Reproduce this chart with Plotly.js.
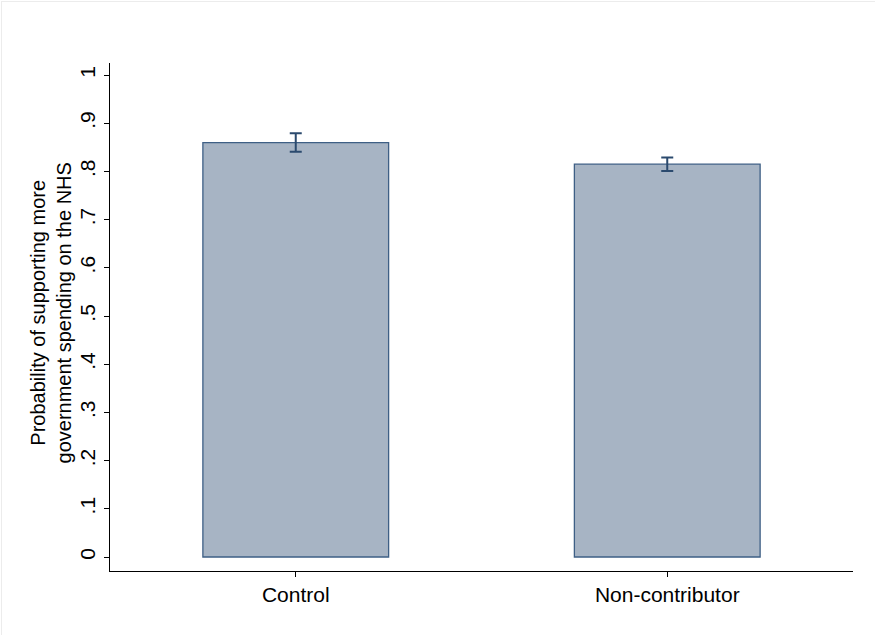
<!DOCTYPE html>
<html>
<head>
<meta charset="utf-8">
<script src="https://cdn.plot.ly/plotly-3.0.1.min.js"></script>
<style>
  html, body { margin: 0; padding: 0; background: #fff; }
  #chart { width: 875px; height: 635px; }
  #frame { position: absolute; left: 1px; top: 1px; width: 880px; height: 640px; border-left: 1px solid #ececec; border-top: 1px solid #ececec; pointer-events: none; }
</style>
</head>
<body>
<div id="chart"></div>
<div id="frame"></div>
<script>
const categories = ["Control", "Non-contributor"];
const values = [0.860, 0.815];
const errors = [0.019, 0.014];
const yTickVals = [0, 0.1, 0.2, 0.3, 0.4, 0.5, 0.6, 0.7, 0.8, 0.9, 1];
const yTickText = ["0", ".1", ".2", ".3", ".4", ".5", ".6", ".7", ".8", ".9", "1"];
const yTitle = "Probability of supporting more<br>government spending on the NHS";

const FONT = "Liberation Sans, Arial, sans-serif";

const trace = {
  type: "bar",
  x: categories,
  y: values,
  width: 0.5,
  marker: { color: "#a7b4c4", line: { color: "#3e5f85", width: 1.3 } },
  error_y: { type: "data", array: errors, visible: true, color: "#2b4a6e", thickness: 2, width: 6 },
  hoverinfo: "none"
};

const layout = {
  width: 875,
  height: 635,
  margin: { l: 110, r: 22, t: 63, b: 64 },
  paper_bgcolor: "#ffffff",
  plot_bgcolor: "#ffffff",
  showlegend: false,
  font: { family: FONT, size: 20, color: "#000" },
  xaxis: {
    range: [-0.5, 1.5],
    showline: true, linecolor: "#000", linewidth: 1.2,
    ticks: "outside", ticklen: 5, tickcolor: "#000", tickwidth: 1,
    showgrid: false, zeroline: false,
    tickfont: { family: FONT, size: 21, color: "#000" }
  },
  yaxis: {
    range: [-0.029, 1.025],
    showline: true, linecolor: "#000", linewidth: 1.2,
    ticks: "outside", ticklen: 5, tickcolor: "#000", tickwidth: 1,
    tickmode: "array", tickvals: yTickVals, ticktext: yTickText, tickangle: -90,
    showgrid: false, zeroline: false,
    tickfont: { family: FONT, size: 21, color: "#000" }
  },
  annotations: [{
    text: yTitle,
    xref: "paper", yref: "paper",
    x: (51 - 110) / 743, y: 0.507,
    xanchor: "center", yanchor: "middle",
    textangle: -90, showarrow: false,
    font: { family: FONT, size: 20, color: "#000" }
  }]
};

Plotly.newPlot("chart", [trace], layout, { staticPlot: true, displayModeBar: false });
</script>
</body>
</html>
